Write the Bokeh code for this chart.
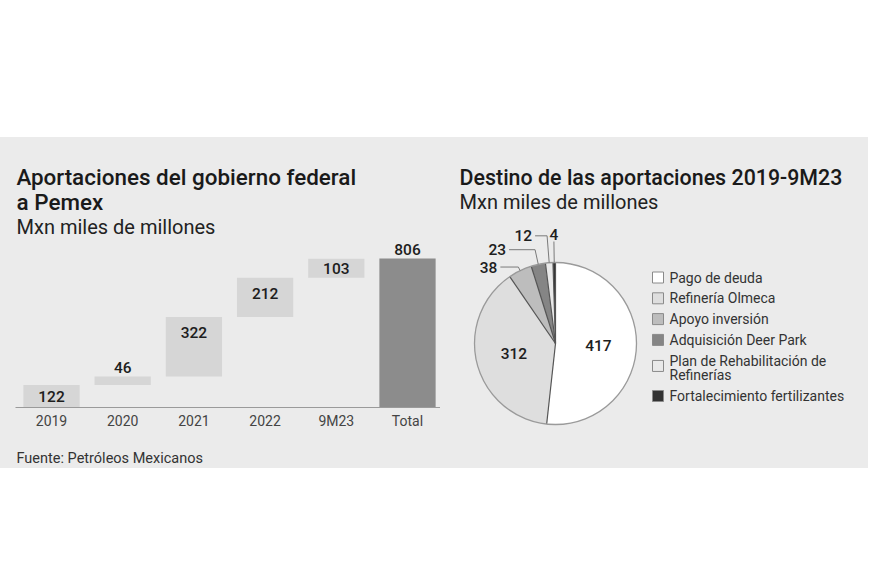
import textwrap
import numpy as np
from bokeh.plotting import figure
from bokeh.layouts import row, column
from bokeh.models import Range1d, ColumnDataSource, Spacer
from bokeh.core.properties import value
from bokeh.embed import file_html
from bokeh.resources import INLINE

# ---------------- data ----------------
years = ["2019", "2020", "2021", "2022", "9M23"]
year_values = [122, 46, 322, 212, 103]
total_label = "Total"
total_value = 806

dest_labels = ["Pago de deuda", "Refinería Olmeca", "Apoyo inversión",
               "Adquisición Deer Park", "Plan de Rehabilitación de Refinerías",
               "Fortalecimiento fertilizantes"]
dest_values = [417, 312, 38, 23, 12, 4]

title_left = ["Aportaciones del gobierno federal", "a Pemex"]
title_right = "Destino de las aportaciones 2019-9M23"
subtitle = "Mxn miles de millones"
source_note = "Fuente: Petróleos Mexicanos"

# ---------------- style ----------------
FONT = value("Roboto")
MEDIUM = value("'Roboto Medium', Roboto")
PANEL = "#ebebeb"
STEP_COLOR = "#d6d6d6"
TOTAL_COLOR = "#8c8c8c"
PIE_COLORS = ["#ffffff", "#dedede", "#bdbdbd", "#858585", "#e9e9e9", "#333333"]
TITLE_COLOR = "#1a1a1a"
TEXT_COLOR = "#333333"
NUM_COLOR = "#1e1e1e"

PANEL_TOP = 137
PANEL_BOTTOM = 468
H = PANEL_BOTTOM - PANEL_TOP


def make_fig(width, xr, yr):
    p = figure(width=width, height=H, x_range=xr, y_range=yr, title=None,
               output_backend="svg", toolbar_location=None,
               x_axis_location=None, y_axis_location=None,
               min_border_left=0, min_border_right=0,
               min_border_top=0, min_border_bottom=0,
               background_fill_color=PANEL, border_fill_color=PANEL,
               outline_line_color=None, styles={"background-color": PANEL})
    p.grid.visible = False
    return p


# ---------------- left: waterfall ----------------
W1 = 440
LEFT_EDGE = 0
X0, DX = 51.0, 71.2            # page x of first category centre, spacing
BASE = 407.0                   # page y of zero line
SY = 149.0 / total_value       # px per unit

fx1 = lambda px: (px - X0) / DX
fy1 = lambda py: (BASE - py) / SY

p1 = make_fig(W1, Range1d(fx1(LEFT_EDGE), fx1(LEFT_EDGE + W1)),
              Range1d(fy1(PANEL_BOTTOM), fy1(PANEL_TOP)))

cats = years + [total_label]
vals = np.array(year_values + [total_value], dtype=float)
cum = np.cumsum(year_values)
bottoms = list(cum - np.array(year_values)) + [0]
tops = list(cum) + [total_value]
idx = np.arange(len(cats))
colors = [STEP_COLOR] * len(years) + [TOTAL_COLOR]

src = ColumnDataSource(dict(x=idx, bottom=bottoms, top=tops, color=colors, cat=cats,
                            label=[str(int(v)) for v in vals]))
p1.vbar(x="x", bottom="bottom", top="top", width=0.79, fill_color="color",
        line_color=None, source=src)

offs = []
for i, (b, t) in enumerate(zip(bottoms, tops)):
    hpx = (t - b) * SY
    if i == len(cats) - 1 or hpx < 12:
        offs.append(-9)
    else:
        offs.append(min(16, hpx / 2))
src.data["off"] = offs
p1.text(x="x", y="top", text="label", y_offset="off", source=src,
        text_font=MEDIUM, text_font_size="15.5px",
        text_color=NUM_COLOR, text_align="center", text_baseline="middle")

# baseline + category labels
p1.segment(x0=[fx1(15)], y0=[0], x1=[fx1(442)], y1=[0], line_color="#9a9a9a", line_width=1.2)
p1.text(x="x", y=0, text="cat", y_offset=13, source=src, text_font=FONT,
        text_font_size="14px", text_color="#444444", text_align="center",
        text_baseline="middle")

# titles
for j, line in enumerate(title_left):
    p1.text(x=[fx1(16)], y=[fy1(176.5 + 24.5 * j)], text=[line], text_font=MEDIUM,
            text_font_size="22.4px", text_color=TITLE_COLOR,
            text_baseline="alphabetic")
p1.text(x=[fx1(16)], y=[fy1(226)], text=[subtitle], text_font=FONT,
        text_font_size="20px", text_color="#222222", text_baseline="alphabetic")
p1.text(x=[fx1(16)], y=[fy1(458)], text=[source_note], text_font=FONT,
        text_font_size="14.5px", text_color=TEXT_COLOR, text_baseline="alphabetic")

# ---------------- right: pie ----------------
W2 = 428
CX, CY = 555.0, 343.0
R = 81.0
fx2 = lambda px: px - CX
fy2 = lambda py: CY - py

p2 = make_fig(W2, Range1d(fx2(LEFT_EDGE + W1), fx2(LEFT_EDGE + W1 + W2)),
              Range1d(fy2(PANEL_BOTTOM), fy2(PANEL_TOP)))

dv = np.array(dest_values, dtype=float)
tot = dv.sum()
c_after = np.cumsum(dv)
c_before = c_after - dv
start = np.pi / 2 - 2 * np.pi * c_before / tot
end = np.pi / 2 - 2 * np.pi * c_after / tot
mid = (start + end) / 2

p2.wedge(x=0, y=0, radius=R, start_angle=start, end_angle=end, direction="clock",
         fill_color=PIE_COLORS, line_color=None)
bnd = np.pi / 2 - 2 * np.pi * np.concatenate([[0], c_after[:-1]]) / tot
p2.segment(x0=0, y0=0, x1=R * np.cos(bnd), y1=R * np.sin(bnd),
           line_color="#555555", line_width=1.2)
p2.arc(x=0, y=0, radius=R, start_angle=0, end_angle=2 * np.pi,
       line_color="#9a9a9a", line_width=1.3)

# inside labels (large slices)
INSIDE = [0, 1]
p2.text(x=[0.53 * R * np.cos(mid[i]) for i in INSIDE],
        y=[0.53 * R * np.sin(mid[i]) for i in INSIDE],
        text=[str(dest_values[i]) for i in INSIDE], text_font=MEDIUM,
        text_font_size="15.5px", text_color=NUM_COLOR,
        text_align="center", text_baseline="middle")

# outside labels with leader lines (small slices)
LEADER_R = {2: 85, 3: 96, 4: 108, 5: 102}
LEADER_RUN = {2: 18, 3: 26, 4: 12, 5: 0}
for i, re in LEADER_R.items():
    ex, ey = R * np.cos(mid[i]), R * np.sin(mid[i])
    kx, ky = re * np.cos(mid[i]), re * np.sin(mid[i])
    run = LEADER_RUN[i]
    xs = [ex, kx, kx - run]
    ys = [ey, ky, ky]
    p2.line(xs, ys, line_color="#7a7a7a", line_width=1)
    if run > 0:
        p2.text(x=[kx - run - 3], y=[ky], text=[str(dest_values[i])], text_font=MEDIUM,
                text_font_size="15.5px", text_color=NUM_COLOR,
                text_align="right", text_baseline="middle")
    else:
        p2.text(x=[kx], y=[ky + 2], text=[str(dest_values[i])], text_font=MEDIUM,
                text_font_size="15.5px", text_color=NUM_COLOR,
                text_align="center", text_baseline="bottom")

# legend
cursor = 277.0
sq_x, sq_y, tx, ty, tt = [], [], [], [], []
for lab in dest_labels:
    lines = textwrap.wrap(lab, width=29)
    ly = [cursor + 14.5 * j for j in range(len(lines))]
    sq_y.append(fy2(np.mean(ly) - (2 if len(lines) > 1 else 0)))
    sq_x.append(fx2(657.5))
    for l, yy in zip(lines, ly):
        tx.append(fx2(669))
        ty.append(fy2(yy))
        tt.append(l)
    cursor += 20.8 + 14.5 * (len(lines) - 1)
p2.scatter(x=sq_x, y=sq_y, marker="square", size=11, fill_color=PIE_COLORS,
           line_color="#8a8a8a", line_width=1)
p2.text(x=tx, y=ty, text=tt, text_font=FONT, text_font_size="14px",
        text_color=TEXT_COLOR, text_baseline="middle")

# titles
p2.text(x=[fx2(459)], y=[fy2(176.5)], text=[title_right], text_font=MEDIUM,
        text_font_size="21.4px", text_color=TITLE_COLOR,
        text_baseline="alphabetic")
p2.text(x=[fx2(459)], y=[fy2(201)], text=[subtitle], text_font=FONT,
        text_font_size="20px", text_color="#222222", text_baseline="alphabetic")

panels = row(p1, p2, spacing=0, styles={"background-color": PANEL})
layout = column(Spacer(height=PANEL_TOP), panels, spacing=0)
open("out.html", "w").write(file_html(layout, INLINE))
